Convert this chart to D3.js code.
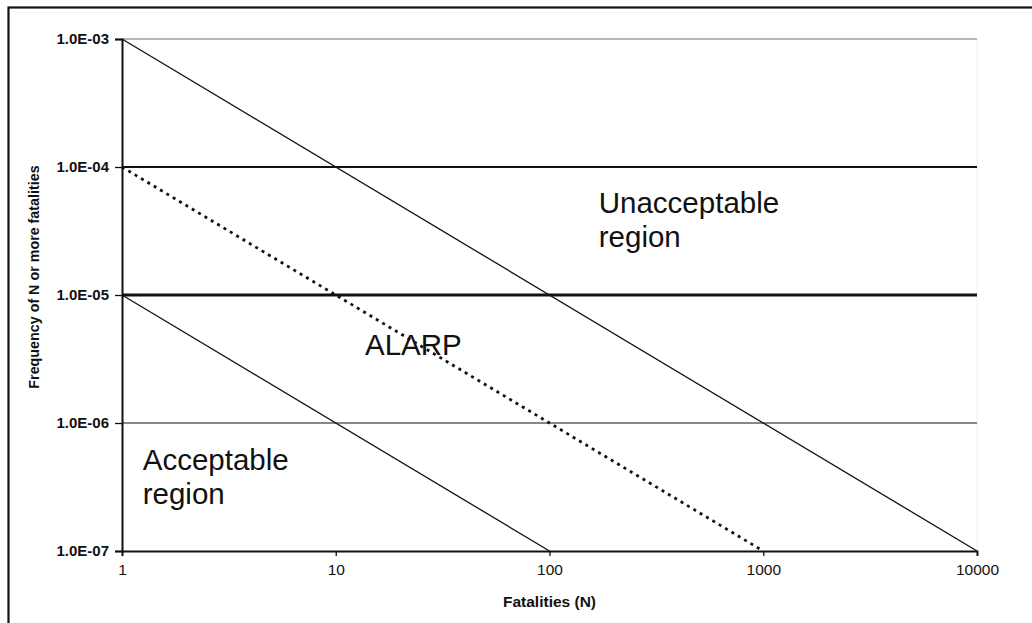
<!DOCTYPE html>
<html>
<head>
<meta charset="utf-8">
<script src="https://cdn.jsdelivr.net/npm/d3@7"></script>
<style>
  body { margin: 0; background: #fff; }
  svg { display: block; }
  svg text { font-family: "Liberation Sans", Arial, sans-serif; }
</style>
</head>
<body>
<div id="chart"></div>
<script>
// FN criterion lines (N, frequency)
const upperLine = [[1, 1e-3], [10000, 1e-7]]
const alarpLine = [[1, 1e-4], [1000, 1e-7]]
const lowerLine = [[1, 1e-5], [100, 1e-7]]

const xTicks = [1, 10, 100, 1000, 10000]
const yTicks = [1e-3, 1e-4, 1e-5, 1e-6, 1e-7]
const yTickLabels = ["1.0E-03", "1.0E-04", "1.0E-05", "1.0E-06", "1.0E-07"]

const regionLabels = [
  { lines: ["Unacceptable", "region"], n: 170, f: 4.4e-5 },
  { lines: ["ALARP"], n: 13.7, f: 3.4e-6 },
  { lines: ["Acceptable", "region"], n: 1.25, f: 4.3e-7 }
]

const width = 1032, height = 623
const margin = { top: 39, right: 55, bottom: 72, left: 122 }

const svg = d3.select("#chart").append("svg")
  .attr("width", width)
  .attr("height", height)

// outer frame
svg.append("rect")
  .attr("x", 8.5).attr("y", 7.5)
  .attr("width", width).attr("height", height)
  .attr("fill", "none")
  .attr("stroke", "#111")
  .attr("stroke-width", 2.2)

const x = d3.scaleLog()
  .domain([1, 10000])
  .range([margin.left, width - margin.right])

const y = d3.scaleLog()
  .domain([1e-7, 1e-3])
  .range([height - margin.bottom, margin.top])

const g = svg.append("g")

// right edge, very faint
g.append("line")
  .attr("x1", x(10000)).attr("x2", x(10000))
  .attr("y1", y(1e-3)).attr("y2", y(1e-7))
  .attr("stroke", "#eee")

// horizontal gridlines
const gridStyle = {
  1e-3: { c: "#b8b4b8", w: 2 },
  1e-4: { c: "#111", w: 2 },
  1e-5: { c: "#111", w: 3 },
  1e-6: { c: "#111", w: 1.1 }
}
g.selectAll(".grid")
  .data(yTicks.filter(d => d > 1e-7))
  .enter().append("line")
  .attr("class", "grid")
  .attr("x1", x(1)).attr("x2", x(10000))
  .attr("y1", d => y(d)).attr("y2", d => y(d))
  .attr("stroke", d => gridStyle[d].c)
  .attr("stroke-width", d => gridStyle[d].w)

// axes
const yAxis = d3.axisLeft(y)
  .tickValues(yTicks)
  .tickFormat((d, i) => yTickLabels[i])
  .tickSize(7)
  .tickPadding(6)

const xAxis = d3.axisBottom(x)
  .tickValues(xTicks)
  .tickFormat(d3.format("d"))
  .tickSize(5)
  .tickPadding(8)

const ya = g.append("g")
  .attr("transform", `translate(${x(1)},0)`)
  .call(yAxis)
  .attr("font-family", null)
ya.select(".domain").attr("stroke", "#111").attr("stroke-width", 2)
ya.selectAll(".tick line").attr("stroke", "#111").attr("stroke-width", 1.3)
ya.selectAll(".tick text")
  .attr("font-size", 15)
  .attr("font-weight", "bold")
  .attr("fill", "#111")

const xa = g.append("g")
  .attr("transform", `translate(0,${y(1e-7)})`)
  .call(xAxis)
  .attr("font-family", null)
xa.select(".domain").attr("stroke", "#111").attr("stroke-width", 1.8)
xa.selectAll(".tick line").attr("stroke", "#111").attr("stroke-width", 1.3)
xa.selectAll(".tick text")
  .attr("font-size", 15.5)
  .attr("fill", "#111")

// criterion lines
const line = d3.line().x(d => x(d[0])).y(d => y(d[1]))

g.append("path").datum(upperLine)
  .attr("d", line).attr("fill", "none")
  .attr("stroke", "#111").attr("stroke-width", 1.3)

g.append("path").datum(lowerLine)
  .attr("d", line).attr("fill", "none")
  .attr("stroke", "#111").attr("stroke-width", 1.3)

g.append("path").datum(alarpLine)
  .attr("d", line).attr("fill", "none")
  .attr("stroke", "#111").attr("stroke-width", 2.8)
  .attr("stroke-dasharray", "3,4.4")

// region labels
regionLabels.forEach(r => {
  const t = g.append("text")
    .attr("x", x(r.n)).attr("y", y(r.f))
    .attr("font-size", 29.5)
    .attr("fill", "#111")
  r.lines.forEach((s, i) => {
    t.append("tspan")
      .attr("x", x(r.n))
      .attr("dy", i === 0 ? 0 : 34)
      .text(s)
  })
})

// axis titles
svg.append("text")
  .attr("x", x(100)).attr("y", 607)
  .attr("text-anchor", "middle")
  .attr("font-size", 15.5)
  .attr("font-weight", "bold")
  .attr("fill", "#111")
  .text("Fatalities (N)")

svg.append("text")
  .attr("transform", "translate(39,277) rotate(-90)")
  .attr("text-anchor", "middle")
  .attr("font-size", 14.3)
  .attr("font-weight", "bold")
  .attr("fill", "#111")
  .text("Frequency of N or more fatalities")
</script>
</body>
</html>
